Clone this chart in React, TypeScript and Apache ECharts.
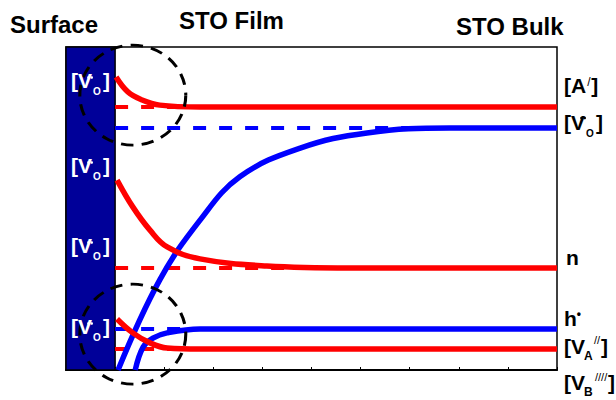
import React, { useEffect, useRef } from "react";
import * as echarts from "echarts";

const FONT = "'Liberation Sans', Arial, Helvetica, sans-serif";
const RED = "#FF0000";
const BLUE = "#0000FF";
const NAVY = "#000099";

// x: depth (0..1 = surface layer, 1..10 = film -> bulk); y: relative concentration level (0..100)
const surfaceExtent = [0, 1];
const redTopCurve = [[1.02, 90.7], [1.26, 86.1], [1.55, 83.6], [1.91, 82.0], [2.73, 81.4], [10, 81.4]];
const blueTopCurve = [[1.06, 0], [1.91, 27.9], [2.73, 46.4], [3.54, 59.8], [4.77, 68.7], [6.13, 73.4], [7.82, 74.9], [10, 74.9]];
const redMidCurve = [[1.04, 58.8], [1.36, 50.5], [1.71, 43.3], [2.06, 38.1], [2.73, 34.4], [4.09, 32.2], [5.78, 31.6], [10, 31.6]];
const blueLowCurve = [[1.41, 0], [1.57, 7.1], [1.77, 9.9], [2.06, 11.5], [2.73, 12.7], [10, 12.7]];
const redLowCurve = [[1.04, 15.8], [1.36, 11.5], [1.71, 8.4], [2.06, 6.8], [2.73, 6.5], [10, 6.5]];

const redLevels = [81.4, 31.6, 6.5];
const blueLevels = [74.9, 12.7];
const dashRange = [1, 10];
const circleCenters = [[1.36, 85.1], [1.36, 11.1]];

const titles = ["Surface", "STO Film", "STO Bulk"];

let measureCtx: CanvasRenderingContext2D | null = null;
function tw(s: string, size: number, weight = "bold"): number {
  if (!measureCtx) measureCtx = document.createElement("canvas").getContext("2d");
  if (!measureCtx) return s.length * size * 0.6;
  measureCtx.font = `${weight} ${size}px "Liberation Sans", Arial, sans-serif`;
  return measureCtx.measureText(s).width;
}

function txt(x: number, cy: number, s: string, size: number, color: string, weight = "bold") {
  return {
    type: "text",
    x,
    y: cy,
    z: 100,
    silent: true,
    style: { text: s, fontSize: size, fontFamily: FONT, fontWeight: weight, fill: color, align: "left", verticalAlign: "middle" },
  };
}

function dot(cx: number, cy: number, r: number, color: string) {
  return { type: "circle", z: 100, silent: true, shape: { cx, cy, r }, style: { fill: color } };
}

function chem(c: any) {
  const size = c.size;
  const els: any[] = [txt(c.x, c.base - 0.35 * size, c.main, size, c.color)];
  const end = c.x + tw(c.main, size);
  if (c.sub) els.push(txt(end + c.subDx, c.base + c.subCy, c.sub, c.subSize, c.color));
  if (c.dots) {
    els.push(dot(end + c.dotDx, c.base + c.dotCy, 1.3, c.color));
    els.push(dot(end + c.dotDx + 3.2, c.base + c.dotCy, 1.3, c.color));
  }
  if (c.sup) els.push(txt(end + c.supDx, c.base + c.supCy, c.sup, c.supSize, c.color, c.supWeight || "bold"));
  if (c.close) els.push(txt(end + c.closeDx, c.base - 0.35 * size, c.close, size, c.color));
  return els;
}

export default function App() {
  const ref = useRef<HTMLDivElement>(null);
  useEffect(() => {
    if (!ref.current) return;
    const chart = echarts.init(ref.current, null, { renderer: "svg" });

    const solid = (data: number[][], color: string) => ({
      type: "line",
      data,
      smooth: 0.4,
      symbol: "none",
      silent: true,
      lineStyle: { color, width: 5.5 },
      z: 3,
    });
    const dashed = (level: number, color: string) => ({
      type: "line",
      data: [[dashRange[0], level], [dashRange[1], level]],
      symbol: "none",
      silent: true,
      lineStyle: { color, width: 4, type: [13, 13] },
      z: 2,
    });

    const vo = (x: number, base: number, color: string, dotCy: number) => ({
      x, base, size: 21, color, main: "[V",
      dots: true, dotDx: -3.5, dotCy,
      sub: "O", subSize: 10, subDx: 1, subCy: 3,
      close: "]", closeDx: 11,
    });

    const labels: any[] = [];
    const T = 24;
    labels.push(txt(10, 33 - 0.35 * T, titles[0], T, "#000"));
    labels.push(txt(179, 29 - 0.35 * T, titles[1], T, "#000"));
    labels.push(txt(456, 35 - 0.35 * T, titles[2], T, "#000"));
    [88, 173, 253, 334].forEach((b) => labels.push(...chem(vo(71, b, "#fff", -10.5))));
    labels.push(...chem({ x: 564, base: 93, size: 21, color: "#000", main: "[A", sup: "/", supSize: 12, supWeight: "normal", supDx: 1, supCy: -11, close: "]", closeDx: 5 }));
    labels.push(...chem(vo(564, 130, "#000", -12)));
    labels.push(txt(566, 265 - 0.35 * 21, "n", 21, "#000"));
    labels.push(...chem({ x: 564, base: 326, size: 21, color: "#000", main: "h", sup: "•", supSize: 12, supDx: 0, supCy: -12.5 }));
    labels.push(...chem({ x: 564, base: 354, size: 21, color: "#000", main: "[V", sub: "A", subSize: 12, subDx: -1, subCy: 2, sup: "//", supSize: 11, supWeight: "normal", supDx: 9, supCy: -14, close: "]", closeDx: 16 }));
    labels.push(...chem({ x: 564, base: 390, size: 21, color: "#000", main: "[V", sub: "B", subSize: 12, subDx: -1, subCy: 2, sup: "////", supSize: 11, supWeight: "normal", supDx: 10, supCy: -13, close: "]", closeDx: 23 }));

    chart.setOption({
      animation: false,
      grid: { left: 66, right: 59, top: 47, bottom: 30, show: true, borderColor: "#000", borderWidth: 1.5 },
      xAxis: {
        type: "value", min: 0, max: 10, interval: 1,
        axisLine: { show: true, lineStyle: { color: "#000", width: 2 } },
        axisTick: { show: true, inside: true, length: 3, lineStyle: { color: "#000", width: 1 } },
        axisLabel: { show: false },
        splitLine: { show: false },
      },
      yAxis: { type: "value", min: 0, max: 100, show: false, splitLine: { show: false } },
      series: [
        {
          type: "line",
          data: [],
          silent: true,
          z: 1,
          markArea: {
            silent: true,
            itemStyle: { color: NAVY, borderColor: "#000", borderWidth: 1.5, opacity: 1 },
            data: [[{ xAxis: surfaceExtent[0], yAxis: 0 }, { xAxis: surfaceExtent[1], yAxis: 100 }]],
          },
        },
        ...blueLevels.map((l) => dashed(l, BLUE)),
        ...redLevels.map((l) => dashed(l, RED)),
        solid(blueTopCurve, BLUE),
        solid(blueLowCurve, BLUE),
        solid(redTopCurve, RED),
        solid(redMidCurve, RED),
        solid(redLowCurve, RED),
        {
          type: "scatter",
          data: circleCenters,
          symbol: "circle",
          symbolSize: [106, 100],
          clip: false,
          silent: true,
          z: 5,
          itemStyle: { color: "rgba(0,0,0,0)", borderColor: "#000", borderWidth: 3, borderType: [12, 8], opacity: 1 },
        },
      ],
      graphic: labels,
    });
    return () => chart.dispose();
  }, []);
  return <div ref={ref} style={{ width: 616, height: 400, position: "absolute", left: 0, top: 0 }} />;
}
